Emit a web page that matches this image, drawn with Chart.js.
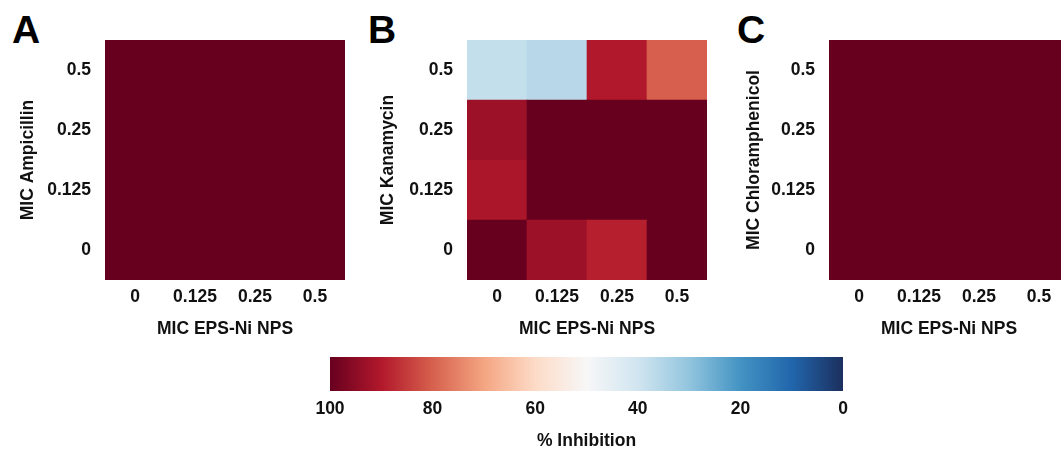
<!DOCTYPE html>
<html>
<head>
<meta charset="utf-8">
<script src="https://cdn.jsdelivr.net/npm/chart.js@4/dist/chart.umd.min.js"></script>
<style>
  html, body { margin: 0; padding: 0; background: #fff; overflow: hidden; width: 1061px; height: 450px; }
  canvas { position: absolute; }
  .letter { position: absolute; font-family: "Liberation Sans", Arial, sans-serif; font-weight: bold; font-size: 39px; line-height: 39px; color: #000; }
</style>
</head>
<body>
<div class="letter" style="left:12px;top:10px;">A</div>
<div class="letter" style="left:368px;top:10px;">B</div>
<div class="letter" style="left:737px;top:10px;">C</div>
<canvas id="cA" width="360" height="350" style="left:0px;top:0px;"></canvas>
<canvas id="cB" width="360" height="350" style="left:360px;top:0px;"></canvas>
<canvas id="cC" width="360" height="350" style="left:720px;top:0px;"></canvas>
<canvas id="cBar" width="580" height="105" style="left:300px;top:347px;"></canvas>
<script>
// ---- Data ----
const xLabels = ['0', '0.125', '0.25', '0.5'];        // MIC EPS-Ni NPS
const yLabels = ['0', '0.125', '0.25', '0.5'];        // MIC antibiotic (bottom to top)

// % inhibition, rows follow yLabels (bottom to top), columns follow xLabels
const ampicillin = [
  [100, 100, 100, 100],
  [100, 100, 100, 100],
  [100, 100, 100, 100],
  [100, 100, 100, 100]
];
const kanamycin = [
  [100, 93, 89, 100],
  [91, 100, 100, 100],
  [93, 100, 100, 100],
  [38, 36, 90, 80]
];
const chloramphenicol = [
  [100, 100, 100, 100],
  [100, 100, 100, 100],
  [100, 100, 100, 100],
  [100, 100, 100, 100]
];

const colorbarTicks = [100, 80, 60, 40, 20, 0];
const cmapValues = [100, 90, 80, 70, 60, 50, 40, 30, 20, 10, 0];
const cmapColors = ['#67001f', '#b2182b', '#d6604d', '#f4a582', '#fddbc7', '#f7f7f7',
                    '#d1e5f0', '#92c5de', '#4393c3', '#2166ac', '#1c2f5e'];

// ---- Helpers ----
function hexToRgb(h) {
  return [parseInt(h.slice(1, 3), 16), parseInt(h.slice(3, 5), 16), parseInt(h.slice(5, 7), 16)];
}
function cmap(v) {
  for (let i = 0; i < cmapValues.length - 1; i++) {
    const a = cmapValues[i], b = cmapValues[i + 1];
    if (v <= a && v >= b) {
      const t = (a - v) / (a - b);
      const c1 = hexToRgb(cmapColors[i]), c2 = hexToRgb(cmapColors[i + 1]);
      const c = c1.map((x, k) => Math.round(x + (c2[k] - x) * t));
      return 'rgb(' + c.join(',') + ')';
    }
  }
  return cmapColors[cmapColors.length - 1];
}

const FONT = '"Liberation Sans", Arial, sans-serif';
const tickFont = { family: FONT, size: 17.5, weight: 'bold' };
const titleFont = { family: FONT, size: 17.5, weight: 'bold' };
const TEXT = '#111111';

function makeHeatmap(id, values, yTitle, yWidth, padRight, yTitlePad) {
  const datasets = values.map((row, i) => ({
    data: xLabels.map(() => [i, i + 1]),
    backgroundColor: row.map(cmap),
    borderWidth: 0,
    borderSkipped: false,
    grouped: false,
    barPercentage: 1,
    categoryPercentage: 1
  }));
  new Chart(document.getElementById(id), {
    type: 'bar',
    data: { labels: xLabels, datasets },
    options: {
      responsive: false,
      devicePixelRatio: 1,
      animation: false,
      layout: { padding: { top: 40, right: padRight, left: 0, bottom: 0 } },
      plugins: { legend: { display: false }, tooltip: { enabled: false } },
      scales: {
        x: {
          type: 'category',
          offset: true,
          grid: { display: false, drawTicks: false },
          border: { display: false },
          ticks: { font: tickFont, color: TEXT, padding: 7, maxRotation: 0, autoSkip: false },
          title: { display: true, text: 'MIC EPS-Ni NPS', font: titleFont, color: TEXT, padding: { top: 0, bottom: 10 } },
          afterFit: s => { s.height = 70; }
        },
        y: {
          type: 'linear',
          min: 0,
          max: yLabels.length,
          grid: { display: false, drawTicks: false },
          border: { display: false },
          afterBuildTicks: s => { s.ticks = yLabels.map((l, i) => ({ value: i + 0.5 })); },
          ticks: { font: tickFont, color: TEXT, padding: 14, callback: (v, i) => yLabels[i] },
          title: { display: true, text: yTitle, font: titleFont, color: TEXT, padding: { top: yTitlePad, bottom: 0 } },
          afterFit: s => { s.width = yWidth; }
        }
      }
    }
  });
}

makeHeatmap('cA', ampicillin, 'MIC Ampicillin', 105, 15, 18);
makeHeatmap('cB', kanamycin, 'MIC Kanamycin', 107, 13, 18);
makeHeatmap('cC', chloramphenicol, 'MIC Chloramphenicol', 109, 11, 24);

// ---- Colour bar ----
new Chart(document.getElementById('cBar'), {
  type: 'bar',
  data: {
    labels: ['% Inhibition'],
    datasets: [{
      data: [[0, 100]],
      borderWidth: 0,
      borderSkipped: false,
      barPercentage: 1,
      categoryPercentage: 1,
      backgroundColor: (c) => {
        const ca = c.chart.chartArea;
        if (!ca) return cmapColors[0];
        const g = c.chart.ctx.createLinearGradient(ca.left, 0, ca.right, 0);
        cmapValues.forEach((v, i) => g.addColorStop((100 - v) / 100, cmapColors[i]));
        return g;
      }
    }]
  },
  options: {
    indexAxis: 'y',
    responsive: false,
    devicePixelRatio: 1,
    animation: false,
    layout: { padding: { top: 10, left: 30, right: 37, bottom: 0 } },
    plugins: { legend: { display: false }, tooltip: { enabled: false } },
    scales: {
      y: { display: false },
      x: {
        type: 'linear',
        min: 0,
        max: 100,
        reverse: true,
        grid: { display: false, drawTicks: false },
        border: { display: false },
        afterBuildTicks: s => { s.ticks = colorbarTicks.map(v => ({ value: v })); },
        ticks: { font: tickFont, color: TEXT, padding: 8, maxRotation: 0, autoSkip: false },
        title: { display: true, text: '% Inhibition', font: titleFont, color: TEXT, padding: { top: 0, bottom: 0 } },
        afterFit: s => { s.height = 61; }
      }
    }
  }
});
</script>
</body>
</html>
